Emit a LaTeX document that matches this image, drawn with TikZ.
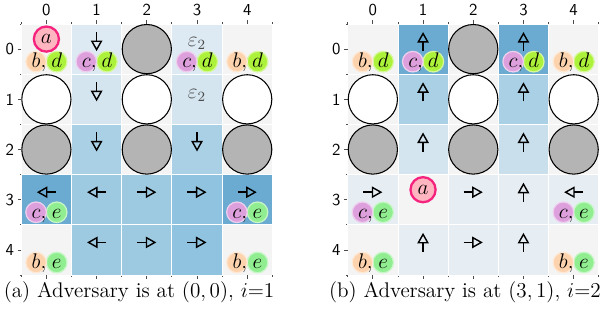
\RequirePackage{fix-cm}
\documentclass[tikz,border=0pt]{standalone}
\usepackage{amsmath, amssymb}
\usepackage{tikz}
\usetikzlibrary{arrows.meta, calc, positioning}
\definecolor{feld}{HTML}{F4F4F4}
\definecolor{blauA}{HTML}{E6EEF4}
\definecolor{blauB}{HTML}{DDEAF3}
\definecolor{blauC}{HTML}{D4E5F0}
\definecolor{blauD}{HTML}{C9DFEC}
\definecolor{blauE}{HTML}{AAD0E5}
\definecolor{blauF}{HTML}{9ECAE1}
\definecolor{blauG}{HTML}{90C3DF}
\definecolor{blauH}{HTML}{6BABD2}
\definecolor{hindernis}{HTML}{B4B4B4}
\definecolor{pfirsich}{HTML}{FDD3AE}
\definecolor{lila}{HTML}{DDA0DD}
\definecolor{limette}{HTML}{ADF23A}
\definecolor{gruen}{HTML}{90EE90}
\definecolor{rosa}{HTML}{FFB6C1}
\definecolor{pink}{HTML}{F5237E}
\tikzset{
  zelle/.style={fill=#1, draw=white, line width=0.5pt},
  kreis/.style={draw=black, line width=0.6pt, fill=#1},
  pfeil/.style={line width=0.8pt, black, -{Triangle[open, length=6pt, width=6.5pt, line width=0.8pt]}},
  marke/.style={circle, fill=#1, draw=#1!50!white, line width=0.7pt, minimum size=0.41cm,
                inner sep=0pt, text height=0.68em, text depth=0pt, font=\fontsize{12}{13}\selectfont},
  agent/.style={circle, fill=rosa, draw=pink, line width=1.3pt, minimum size=0.5cm,
                inner sep=0pt, font=\fontsize{12}{13}\selectfont},
  eps/.style={inner sep=0pt, text=black!70, font=\fontsize{12}{13}\selectfont},
  strich/.style={line width=0.5pt, draw=black!70},
  achse/.style={inner sep=1pt, font=\sffamily\fontsize{9.5}{11}\selectfont},
  titel/.style={inner sep=0pt, font=\fontsize{12}{14}\selectfont},
}
\begin{document}
\begin{tikzpicture}
  \useasboundingbox (0,0) rectangle (12.07,-6.135);

  % Raster und Achsen
  \foreach \g/\x in {L/0.424, R/6.926} {
    \begin{scope}[shift={(\x,-0.478)}]
      \foreach \r in {0,...,4} \foreach \c in {0,...,4} {
        \coordinate (\g-\r-\c) at (\c+0.5,-\r-0.5);
        \path[zelle=feld] (\c,-\r) rectangle ++(1,-1);
      }
      \foreach \i in {0,...,4} {
        \draw[strich] (\i+0.5,0) -- ++(0,0.07);
        \draw[strich] (\i+0.5,-5) -- ++(0,-0.07);
        \draw[strich] (0,-\i-0.5) -- ++(-0.07,0);
        \node[achse] (\g-x\i) at (\i+0.5,0.28) {\i};
        \node[achse] (\g-y\i) at (-0.23,-\i-0.5) {\i};
      }
      \foreach \i in {0,...,5} {
        \draw[strich] (\i,0) -- ++(0,0.035);
        \draw[strich] (\i,-5) -- ++(0,-0.035);
        \draw[strich] (0,-\i) -- ++(-0.035,0);
      }
    \end{scope}
  }

  % Werte (Blautoene)
  \foreach \z/\f in {L-0-1/blauB, L-0-3/blauB, L-1-1/blauC, L-1-3/blauC, L-2-1/blauE,
                     L-2-3/blauE, L-3-0/blauH, L-3-1/blauF, L-3-2/blauF, L-3-3/blauG,
                     L-3-4/blauH, L-4-1/blauF, L-4-2/blauF, L-4-3/blauG,
                     R-0-1/blauH, R-0-3/blauH, R-1-1/blauE, R-1-3/blauE, R-2-1/blauC,
                     R-2-3/blauD, R-3-0/blauA, R-3-2/blauA, R-3-3/blauA, R-3-4/blauA,
                     R-4-1/blauA, R-4-2/blauA, R-4-3/blauA}
    \path[zelle=\f] ([shift={(-0.5,0.5)}]\z) rectangle ++(1,-1);

  % Hindernisse
  \foreach \g in {L,R}
    \foreach \z/\f in {0-2/hindernis, 1-0/white, 1-2/white, 1-4/white,
                       2-0/hindernis, 2-2/hindernis, 2-4/hindernis}
      \draw[kreis=\f] (\g-\z) circle (0.49);

  % Pfeile
  \foreach \z/\dx/\dy in {L-0-1/0/-1, L-1-1/0/-1, L-2-1/0/-1, L-2-3/0/-1,
                          L-3-0/-1/0, L-3-1/-1/0, L-3-2/1/0, L-3-3/1/0, L-3-4/1/0,
                          L-4-1/-1/0, L-4-2/1/0, L-4-3/1/0,
                          R-0-1/0/1, R-0-3/0/1, R-1-1/0/1, R-1-3/0/1, R-2-1/0/1, R-2-3/0/1,
                          R-3-0/1/0, R-3-2/1/0, R-3-3/0/1, R-3-4/-1/0,
                          R-4-1/0/1, R-4-2/1/0, R-4-3/0/1}
    \draw[pfeil] ([shift={({-0.19*(\dx)},{0.15-0.19*(\dy)})}]\z) -- ++({0.38*(\dx)},{0.38*(\dy)});

  % Marken
  \foreach \z/\p/\fp/\q/\fq in {L-0-0/b/pfirsich/d/limette, L-0-1/c/lila/d/limette,
                                L-0-3/c/lila/d/limette, L-0-4/b/pfirsich/d/limette,
                                L-3-0/c/lila/e/gruen, L-3-4/c/lila/e/gruen,
                                L-4-0/b/pfirsich/e/gruen, L-4-4/b/pfirsich/e/gruen,
                                R-0-0/b/pfirsich/d/limette, R-0-1/c/lila/d/limette,
                                R-0-3/c/lila/d/limette, R-0-4/b/pfirsich/d/limette,
                                R-3-0/c/lila/e/gruen, R-3-4/c/lila/e/gruen,
                                R-4-0/b/pfirsich/e/gruen, R-4-4/b/pfirsich/e/gruen} {
    \node[marke=\fq] (\z-2) at ([shift={(0.205,-0.25)}]\z) {$\q$};
    \node[marke=\fp] (\z-1) at ([shift={(-0.205,-0.25)}]\z) {$\p\rlap{$,$}$};
  }

  % Gegner
  \node[agent] (L-a) at ([shift={(0,0.2)}]L-0-0) {$a$};
  \node[agent] (R-a) at ([shift={(0,0.2)}]R-3-1) {$a$};

  \node[eps] (L-e0) at ([shift={(0,0.12)}]L-0-3) {$\varepsilon_2$};
  \node[eps] (L-e1) at ([shift={(0,0.08)}]L-1-3) {$\varepsilon_2$};

  % Unterschriften
  \node[titel] (L-cap) at (2.77,-5.82) {(a) Adversary is at $(0,0)$, $i{=}1$};
  \node[titel] (R-cap) at (9.26,-5.82) {(b) Adversary is at $(3,1)$, $i{=}2$};
\end{tikzpicture}
\end{document}
